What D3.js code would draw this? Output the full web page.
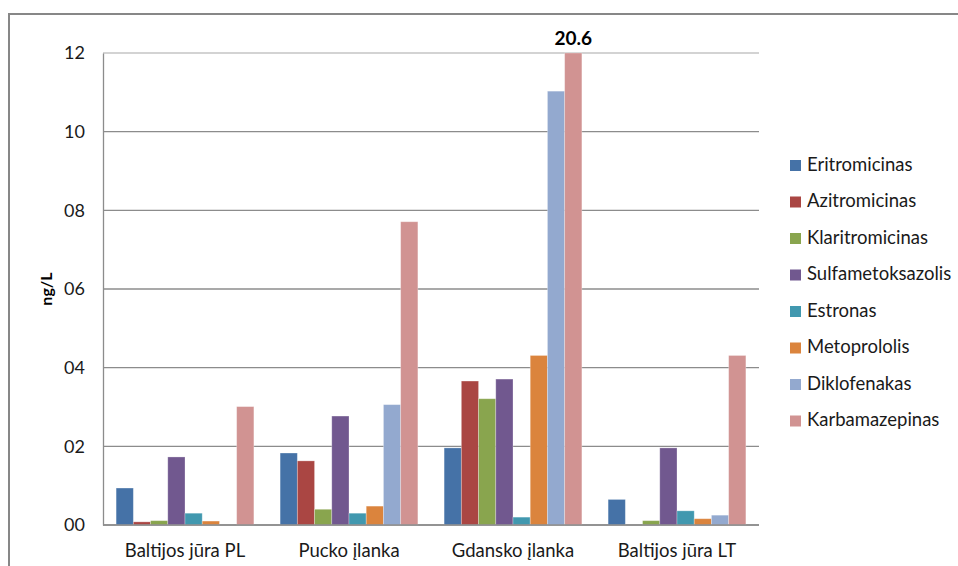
<!DOCTYPE html>
<html>
<head>
<meta charset="utf-8">
<script src="https://cdn.jsdelivr.net/npm/d3@7"></script>
<style>
  body { margin: 0; background: #fff; }
  text { font-family: Lato, "Open Sans", sans-serif; fill: #1a1a1a; }
</style>
</head>
<body>
<div id="chart"></div>
<script>
// Sites along the x axis
const sites = ['Baltijos jūra PL', 'Pucko įlanka', 'Gdansko įlanka', 'Baltijos jūra LT'];

// Substances (series)
const substances = ['Eritromicinas', 'Azitromicinas', 'Klaritromicinas', 'Sulfametoksazolis',
  'Estronas', 'Metoprololis', 'Diklofenakas', 'Karbamazepinas'];

const colors = ['#4572A7', '#AA4643', '#89A54E', '#71588F', '#4198AF', '#DB843D', '#93A9CF', '#D19392'];

// Values per substance, one per site (ng/L)
const eritromicinas     = [0.94, 1.83, 1.96, 0.65];
const azitromicinas     = [0.08, 1.63, 3.66, 0];
const klaritromicinas   = [0.11, 0.40, 3.21, 0.11];
const sulfametoksazolis = [1.73, 2.77, 3.71, 1.96];
const estronas          = [0.30, 0.30, 0.20, 0.36];
const metoprololis      = [0.10, 0.48, 4.31, 0.16];
const diklofenakas      = [0, 3.06, 11.03, 0.25];
const karbamazepinas    = [3.01, 7.71, 20.6, 4.31];

const seriesValues = [eritromicinas, azitromicinas, klaritromicinas, sulfametoksazolis,
  estronas, metoprololis, diklofenakas, karbamazepinas];

const yTicks = [0, 2, 4, 6, 8, 10, 12];

const W = 958, H = 566;
const plot = { left: 103, right: 759, top: 53, bottom: 525 };

const svg = d3.select('#chart').append('svg')
  .attr('width', W).attr('height', H);

// Outer chart frame
svg.append('path')
  .attr('d', `M9,${H} V14 H${W}`)
  .attr('fill', 'none')
  .attr('stroke', '#878787')
  .attr('stroke-width', 2);

const x0 = d3.scaleBand().domain(sites).range([plot.left, plot.right]).padding(0);
const groupPad = x0.bandwidth() * 0.08;
const x1 = d3.scaleBand().domain(substances)
  .range([groupPad, x0.bandwidth() - groupPad]).padding(0);
const y = d3.scaleLinear().domain([0, 12]).range([plot.bottom, plot.top]);

// Gridlines
svg.append('g')
  .selectAll('line')
  .data(yTicks)
  .enter().append('line')
  .attr('x1', plot.left).attr('x2', plot.right)
  .attr('y1', d => y(d)).attr('y2', d => y(d))
  .attr('stroke', d => d === 12 ? '#c4c4c4' : '#8c8c8c')
  .attr('stroke-width', 1.3);

// Y axis
const yAxis = svg.append('g')
  .attr('transform', `translate(${plot.left},0)`)
  .call(d3.axisLeft(y).tickValues(yTicks).tickFormat(d3.format('02d')).tickSize(0).tickPadding(18));
yAxis.select('.domain').attr('stroke', '#8c8c8c').attr('stroke-width', 1.3);
yAxis.selectAll('text').style('font-size', '18px').style('fill', '#1a1a1a')
  .style('font-family', 'Lato, "Open Sans", sans-serif');

// Bars
const rows = [];
sites.forEach((s, i) => {
  substances.forEach((sub, j) => {
    rows.push({ site: s, sub: sub, value: seriesValues[j][i], color: colors[j] });
  });
});

svg.append('g')
  .selectAll('rect')
  .data(rows.filter(d => d.value > 0))
  .enter().append('rect')
  .attr('x', d => x0(d.site) + x1(d.sub))
  .attr('width', x1.bandwidth())
  .attr('y', d => y(Math.min(d.value, 12)))
  .attr('height', d => y(0) - y(Math.min(d.value, 12)))
  .attr('fill', d => d.color)
  .attr('stroke', '#fff')
  .attr('stroke-opacity', 0.35)
  .attr('stroke-width', 0.8);

// Label for the clipped bar
rows.filter(d => d.value > 12).forEach(d => {
  svg.append('text')
    .attr('x', x0(d.site) + x1(d.sub) + x1.bandwidth() / 2)
    .attr('y', y(12) - 8)
    .attr('text-anchor', 'middle')
    .style('font-size', '19px')
    .style('font-weight', 'bold')
    .style('fill', '#000')
    .text(d.value.toFixed(1));
});

// X axis line and labels
svg.append('line')
  .attr('x1', plot.left).attr('x2', plot.right)
  .attr('y1', plot.bottom).attr('y2', plot.bottom)
  .attr('stroke', '#8c8c8c').attr('stroke-width', 1.3);

svg.append('g')
  .selectAll('text')
  .data(sites)
  .enter().append('text')
  .attr('x', d => x0(d) + x0.bandwidth() / 2)
  .attr('y', 557)
  .attr('text-anchor', 'middle')
  .style('font-size', '18.5px')
  .text(d => d);

// Y axis title
svg.append('text')
  .attr('transform', `translate(52,${(plot.top + plot.bottom) / 2}) rotate(-90)`)
  .attr('text-anchor', 'middle')
  .style('font-size', '16px')
  .style('font-weight', 'bold')
  .style('fill', '#000')
  .text('ng/L');

// Legend
const legend = svg.append('g').attr('transform', 'translate(790,166)');
const items = legend.selectAll('g')
  .data(substances)
  .enter().append('g')
  .attr('transform', (d, i) => `translate(0,${i * 36.5})`);
items.append('rect')
  .attr('x', 0).attr('y', -6)
  .attr('width', 11).attr('height', 11)
  .attr('fill', (d, i) => colors[i]);
items.append('text')
  .attr('x', 17).attr('y', 0)
  .attr('dominant-baseline', 'middle')
  .style('font-size', '18.5px')
  .text(d => d);
</script>
</body>
</html>
